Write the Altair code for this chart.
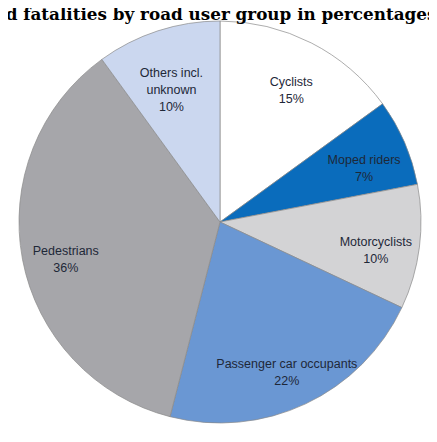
import altair as alt
import pandas as pd

title_text = "Road fatalities by road user group in percentages"
categories = ["Cyclists", "Moped riders", "Motorcyclists",
              "Passenger car occupants", "Pedestrians", "Others incl. unknown"]
label_names = ["Cyclists", "Moped riders", "Motorcyclists",
               "Passenger car occupants", "Pedestrians", "Others incl.\nunknown"]
values = [15, 7, 10, 22, 36, 10]
colors = ["#ffffff", "#0a6cbc", "#d3d3d5", "#6a97d3", "#a6a6aa", "#cbd7ef"]

df = pd.DataFrame({
    "cat": categories,
    "val": values,
    "idx": list(range(len(categories))),
    "label": [f"{n}\n{v}%" for n, v in zip(label_names, values)],
})

CX, CY, R = 212, 214, 201

base = alt.Chart(df).encode(
    theta=alt.Theta("val:Q", stack=True),
    order=alt.Order("idx:Q"),
)

pie = base.mark_arc(outerRadius=R, stroke="#8a8a8a", strokeWidth=0.7).encode(
    x=alt.value(CX), y=alt.value(CY),
    color=alt.Color("cat:N", scale=alt.Scale(domain=categories, range=colors), legend=None),
)

labels = base.mark_text(font="Liberation Sans", fontSize=12.5, color="#1e2838",
                        lineBreak="\n", lineHeight=17, align="center", baseline="middle").encode(
    x=alt.value(CX), y=alt.value(CY),
    radius=alt.value(157),
    text="label:N",
)

title = alt.Chart(pd.DataFrame({"t": [title_text]})).mark_text(
    font="DejaVu Serif", fontWeight="bold", fontSize=16.8, color="#000000",
    align="center", baseline="alphabetic").encode(
    x=alt.value(195), y=alt.value(12), text="t:N")

chart = alt.layer(pie, labels, title).properties(
    width=421, height=420, padding=0,
    autosize=alt.AutoSizeParams(type="none"),
).configure_view(stroke=None)

chart.save("out.html", embed_options={"renderer": "svg", "actions": False})
